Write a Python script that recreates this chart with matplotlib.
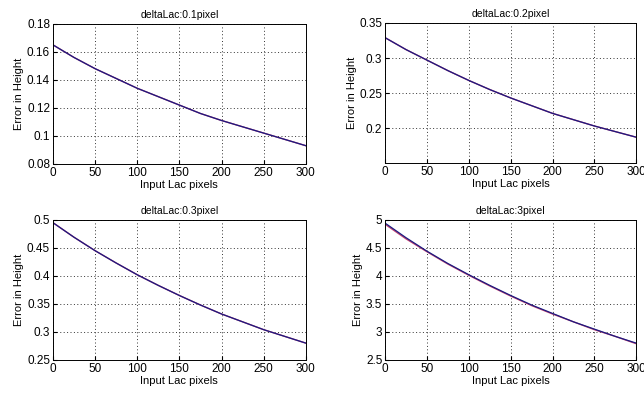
import matplotlib
matplotlib.use('Agg')
import matplotlib.pyplot as plt
import numpy as np

plt.rcParams['font.family'] = ['Liberation Sans', 'DejaVu Sans']
plt.rcParams['font.size'] = 8

x = [0, 25, 50, 75, 100, 125, 150, 175, 200, 225, 250, 275, 300]

err01 = [0.165, 0.156, 0.148, 0.141, 0.134, 0.128, 0.122, 0.116, 0.111, 0.1065, 0.102, 0.0975, 0.093]
err02 = [0.329, 0.312, 0.297, 0.282, 0.268, 0.255, 0.243, 0.232, 0.221, 0.212, 0.203, 0.195, 0.187]
err03 = [0.495, 0.469, 0.445, 0.423, 0.402, 0.383, 0.365, 0.348, 0.332, 0.318, 0.304, 0.292, 0.280]
err3_blue = [4.94, 4.68, 4.44, 4.22, 4.02, 3.83, 3.65, 3.48, 3.33, 3.18, 3.05, 2.92, 2.80]
err3_red = [4.92, 4.66, 4.43, 4.21, 4.01, 3.82, 3.64, 3.47, 3.32, 3.18, 3.04, 2.92, 2.79]

titles = ['deltaLac:0.1pixel', 'deltaLac:0.2pixel', 'deltaLac:0.3pixel', 'deltaLac:3pixel']
ylims = [(0.08, 0.18), (0.15, 0.35), (0.25, 0.5), (2.5, 5)]
yticks = [[0.08, 0.1, 0.12, 0.14, 0.16, 0.18],
          [0.2, 0.25, 0.3, 0.35],
          [0.25, 0.3, 0.35, 0.4, 0.45, 0.5],
          [2.5, 3, 3.5, 4, 4.5, 5]]
ylabs = [['0.08', '0.1', '0.12', '0.14', '0.16', '0.18'],
         ['0.2', '0.25', '0.3', '0.35'],
         ['0.25', '0.3', '0.35', '0.4', '0.45', '0.5'],
         ['2.5', '3', '3.5', '4', '4.5', '5']]
blue = [err01, err02, err03, err3_blue]
red = [err01, err02, err03, err3_red]

pos = [[0.082, 0.586, 0.393, 0.354],
       [0.598, 0.588, 0.390, 0.354],
       [0.082, 0.091, 0.393, 0.354],
       [0.598, 0.091, 0.390, 0.354]]

fig = plt.figure(figsize=(6.44, 3.96), dpi=100)
for i in range(4):
    ax = fig.add_axes(pos[i])
    ax.plot(x, red[i], color='#c04070', lw=1.0)
    ax.plot(x, blue[i], color='#1a1a80', lw=0.9)
    ax.set_xlim(0, 300)
    ax.set_ylim(*ylims[i])
    ax.set_xticks([0, 50, 100, 150, 200, 250, 300])
    ax.set_yticks(yticks[i])
    ax.set_yticklabels(ylabs[i])
    ax.grid(True, linestyle=(0, (1, 2.5)), color='#333333', lw=0.7)
    ax.tick_params(direction='in', length=3, pad=2, labelsize=8.5)
    ax.set_title(titles[i], fontsize=7.5, pad=4)
    ax.set_xlabel('Input Lac pixels', fontsize=8, labelpad=1)
    ax.set_ylabel('Error in Height', fontsize=8, labelpad=2)
    for s in ax.spines.values():
        s.set_linewidth(0.7)

fig.savefig('out.png', dpi=100)
